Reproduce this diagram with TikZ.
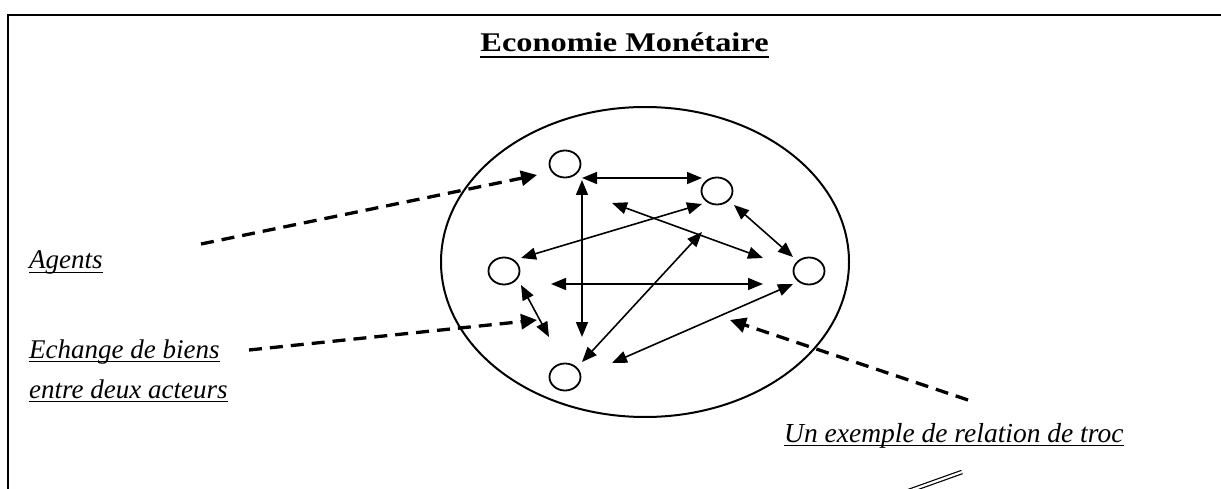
\documentclass[tikz,border=0pt]{standalone}
\usepackage{fontspec}
\setmainfont{Liberation Serif}
\newfontfamily\titlefont[FakeStretch=1.2]{Liberation Serif}
\usetikzlibrary{arrows.meta,shapes.geometric}

\tikzset{
    agent/.style={draw, ellipse, line width=1.8pt, minimum width=31pt, minimum height=27pt, inner sep=0pt},
    swap/.style={{Triangle[length=15pt,width=12pt]}-{Triangle[length=15pt,width=12pt]}, line width=1.6pt},
    pointer/.style={-{Triangle[length=16pt,width=15pt]}, line width=3.3pt, dash pattern=on 13pt off 8pt},
    note/.style={inner sep=0pt, anchor=base west, font=\fontsize{27}{31}\selectfont\itshape},
    uline/.style={line width=1.6pt}
}

\begin{document}
\begin{tikzpicture}[x=1pt, y=-1pt]
    \useasboundingbox (0,0) rectangle (1221,489);
    \draw[line width=2.6pt] (1230,15) -- (8,15) -- (8,495);

    % title
    \node[inner sep=0pt, anchor=base, font=\titlefont\fontsize{27}{31}\selectfont\bfseries] (title) at (624.5,52) {Economie Monétaire};
    \draw[line width=2.2pt] ([yshift=-5pt]title.base west) -- ([yshift=-5pt]title.base east);

    % market
    \draw[line width=2pt] (645,262) ellipse [x radius=204, y radius=155];
    \node[agent] (a1) at (565,164) {};
    \node[agent] (a2) at (717,191) {};
    \node[agent] (a3) at (504,271) {};
    \node[agent] (a4) at (809,271) {};
    \node[agent] (a5) at (565,377) {};

    % exchanges
    \foreach \i/\p/\q in {1/{582,178}/{702,178}, 2/{582,180}/{582,337}, 3/{702,204}/{521,258},
                          4/{612,203}/{763,258}, 5/{734,205}/{793,257}, 6/{551,284}/{763,284},
                          7/{702,232}/{582,362}, 8/{521,285}/{549,337}, 9/{793,284}/{612,363}} {
        \coordinate (s\i a) at (\p);
        \coordinate (s\i b) at (\q);
        \draw[swap] (s\i a) -- (s\i b);
    }

    % notes
    \node[note] (agents) at (29,269) {Agents};
    \node[note] (echange) at (29,358) {Echange de biens};
    \node[note] (entre) at (29,398) {entre deux acteurs};
    \node[note, font=\fontsize{27.5}{31}\selectfont\itshape] (troc) at (784,442) {Un exemple de relation de troc};
    \foreach \n in {agents, echange, entre, troc}
        \draw[uline] ([yshift=-3.5pt]\n.base west) -- ([yshift=-3.5pt]\n.base east);

    \coordinate (d1) at (201,244);
    \coordinate (d2) at (249,350);
    \coordinate (d3) at (968,400);
    \coordinate (t1) at (537,175);
    \coordinate (t2) at (537,320);
    \coordinate (t3) at (730,320);
    \draw[pointer] (d1) -- (t1);
    \draw[pointer] (d2) -- (t2);
    \draw[pointer] (d3) -- (t3);

    \coordinate (q1) at (906,492);
    \coordinate (q2) at (962,472);
    \draw[double, line width=1.2pt, double distance=2.2pt] (q1) -- (q2);
\end{tikzpicture}
\end{document}
